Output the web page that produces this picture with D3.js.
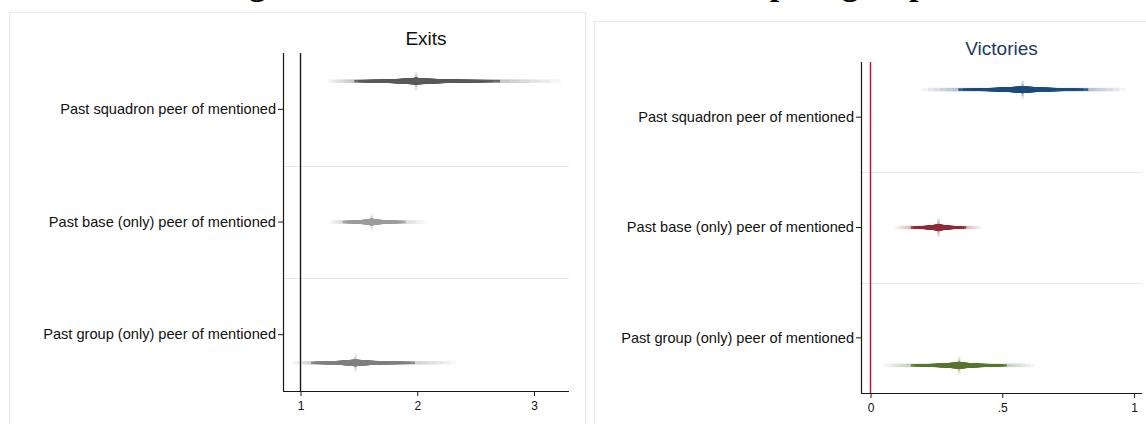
<!DOCTYPE html>
<html>
<head>
<meta charset="utf-8">
<script src="https://cdn.jsdelivr.net/npm/d3@7"></script>
<style>
  html, body { margin: 0; padding: 0; background: #ffffff; }
  svg { display: block; }
</style>
</head>
<body>
<svg id="chart" width="1146" height="424"></svg>
<script>
// ---- data ----------------------------------------------------------------
const categories = [
  "Past squadron peer of mentioned",
  "Past base (only) peer of mentioned",
  "Past group (only) peer of mentioned"
];

// Exits: hazard ratios, with 95% and outer confidence bounds
const exitsPoint = [1.99, 1.61, 1.47];
const exitsLo95  = [1.46, 1.36, 1.09];
const exitsHi95  = [2.71, 1.90, 1.98];
const exitsLoOut = [1.23, 1.24, 0.93];
const exitsHiOut = [3.23, 2.08, 2.34];

// Victories: coefficients, with 95% and outer confidence bounds
const victoriesPoint = [0.577, 0.258, 0.336];
const victoriesLo95  = [0.333, 0.153, 0.153];
const victoriesHi95  = [0.826, 0.363, 0.517];
const victoriesLoOut = [0.195, 0.094, 0.047];
const victoriesHiOut = [0.967, 0.419, 0.621];

const exitsTicks = [1, 2, 3];
const exitsTickLabels = ["1", "2", "3"];
const victoriesTicks = [0, 0.5, 1];
const victoriesTickLabels = ["0", ".5", "1"];

const exitsColors = ["#595959", "#9c9c9c", "#7f7f7f"];
const victoriesColors = ["#1f4b7a", "#8e2b37", "#56762d"];

const titleText = "Being cited: exits & victories, relative to peer group";

// ---- helpers ---------------------------------------------------------------
// standard normal CDF (Abramowitz & Stegun 7.1.26) and its inverse by bisection
function normCdf(z) {
  const t = 1 / (1 + 0.3275911 * Math.abs(z) / Math.SQRT2);
  const y = 1 - (((((1.061405429 * t - 1.453152027) * t) + 1.421413741) * t - 0.284496736) * t + 0.254829592) * t * Math.exp(-z * z / 2);
  return z >= 0 ? 0.5 * (1 + y) : 0.5 * (1 - y);
}
function normInv(p) {
  let lo = -10, hi = 10;
  for (let i = 0; i < 80; i++) {
    const mid = (lo + hi) / 2;
    if (normCdf(mid) < p) lo = mid; else hi = mid;
  }
  return (lo + hi) / 2;
}
const z95 = normInv(0.975);

const svg = d3.select("#chart");
const FONT = "'Liberation Sans', Arial, Helvetica, sans-serif";

// ---- overall title (sits mostly above the top edge) ------------------------------
svg.append("text")
  .attr("x", 183).attr("y", -5)
  .attr("font-family", "'Liberation Serif', 'Times New Roman', serif")
  .attr("font-weight", "bold")
  .attr("font-size", 34)
  .attr("fill", "#000")
  .text(titleText);

// ---- one panel -------------------------------------------------------------------
function drawPanel(cfg) {
  const g = svg.append("g");

  // outer graph region border
  g.append("rect")
    .attr("x", cfg.box.x).attr("y", cfg.box.y)
    .attr("width", cfg.box.w).attr("height", cfg.box.h)
    .attr("fill", "#ffffff")
    .attr("stroke", "#e6eaec").attr("stroke-width", 1);

  const x = d3.scaleLinear().domain(cfg.domain).range([cfg.left, cfg.right]);
  const y = d3.scaleBand().domain(categories).range([cfg.top, cfg.bottom]).paddingInner(0).paddingOuter(0);
  const step = y.step();

  // band separators
  g.selectAll("line.sep")
    .data(categories.slice(1))
    .join("line")
    .attr("class", "sep")
    .attr("x1", cfg.left).attr("x2", cfg.right)
    .attr("y1", d => Math.round(y(d)) + 0.5)
    .attr("y2", d => Math.round(y(d)) + 0.5)
    .attr("stroke", "#e3e7ea").attr("stroke-width", 1);

  // reference line
  g.append("line")
    .attr("x1", x(cfg.ref)).attr("x2", x(cfg.ref))
    .attr("y1", cfg.top).attr("y2", cfg.bottom)
    .attr("stroke", cfg.refColor).attr("stroke-width", 1.4);

  // y axis
  const yAxis = d3.axisLeft(y).tickSize(5).tickPadding(2);
  const ya = g.append("g")
    .attr("transform", `translate(${cfg.left},0)`)
    .call(yAxis);
  ya.select(".domain").attr("stroke", "#1a1a1a").attr("stroke-width", 1.2)
    .attr("d", `M0.5,${cfg.top}V${cfg.bottom}`);
  ya.selectAll(".tick line").attr("stroke", "#1a1a1a").attr("stroke-width", 1);
  ya.selectAll(".tick text")
    .attr("font-family", FONT).attr("font-size", 14.6).attr("fill", "#111");

  // x axis
  const xAxis = d3.axisBottom(x).tickValues(cfg.ticks)
    .tickFormat((d, i) => cfg.tickLabels[i]).tickSize(5).tickPadding(5);
  const xa = g.append("g")
    .attr("transform", `translate(0,${cfg.bottom})`)
    .call(xAxis);
  xa.select(".domain").attr("stroke", "#1a1a1a").attr("stroke-width", 1.2)
    .attr("d", `M${cfg.left},0.5H${cfg.right}`);
  xa.selectAll(".tick line").attr("stroke", "#1a1a1a").attr("stroke-width", 1);
  xa.selectAll(".tick text")
    .attr("font-family", FONT).attr("font-size", 12).attr("fill", "#111");

  // panel title
  g.append("text")
    .attr("x", (cfg.left + cfg.right) / 2).attr("y", cfg.titleY)
    .attr("text-anchor", "middle")
    .attr("font-family", FONT).attr("font-size", 19)
    .attr("fill", cfg.titleColor)
    .text(cfg.title);

  // smoothed confidence spikes
  const tf = cfg.tf, inv = cfg.inv;
  const offsets = [-0.25, 0, 0.25];
  categories.forEach((cat, i) => {
    const cy = y(cat) + step / 2 + offsets[i] * step;
    const col = cfg.colors[i];
    const p = tf(cfg.point[i]);
    const lo95 = tf(cfg.lo95[i]), hi95 = tf(cfg.hi95[i]);
    const loO = tf(cfg.loOut[i]), hiO = tf(cfg.hiOut[i]);
    const mk = g.append("g");

    // outer faint part: nested layers fading outward
    const nf = 6;
    for (let k = 0; k < nf; k++) {
      const s = 1 - k / nf;
      const a = lo95 + (loO - lo95) * s;
      const b = hi95 + (hiO - hi95) * s;
      mk.append("rect")
        .attr("x", x(inv(a))).attr("width", x(inv(b)) - x(inv(a)))
        .attr("y", cy - 1.75).attr("height", 3.5)
        .attr("fill", col).attr("fill-opacity", 0.06);
    }

    // inner levels: from 95% down to 1%, thickening toward the estimate
    for (let L = 95; L >= 1; L -= 2) {
      const r = normInv(0.5 + L / 200) / z95;
      const a = p - (p - lo95) * r;
      const b = p + (hi95 - p) * r;
      const h = 2.6 + 4.4 * Math.pow(1 - L / 95, 1.4);
      mk.append("rect")
        .attr("x", x(inv(a))).attr("width", Math.max(0.5, x(inv(b)) - x(inv(a))))
        .attr("y", cy - h / 2).attr("height", h)
        .attr("fill", col).attr("fill-opacity", L > 90 ? 0.85 : 1);
    }

    // estimate marker with soft cross glow
    const px = x(cfg.point[i]);
    mk.append("rect")
      .attr("x", px - 1.5).attr("width", 3)
      .attr("y", cy - 9).attr("height", 18)
      .attr("fill", col).attr("fill-opacity", 0.15);
    mk.append("rect")
      .attr("x", px - 1).attr("width", 2)
      .attr("y", cy - 6).attr("height", 12)
      .attr("fill", col).attr("fill-opacity", 0.25);
    mk.append("circle")
      .attr("cx", px).attr("cy", cy).attr("r", 3.8)
      .attr("fill", col);
  });
}

drawPanel({
  box: { x: 9.5, y: 12.5, w: 576, h: 430 },
  left: 283, right: 569, top: 53, bottom: 391,
  domain: [0.85, 3.30],
  ticks: exitsTicks, tickLabels: exitsTickLabels,
  ref: 1, refColor: "#1a1a1a",
  title: "Exits", titleColor: "#111111", titleY: 45,
  point: exitsPoint, lo95: exitsLo95, hi95: exitsHi95, loOut: exitsLoOut, hiOut: exitsHiOut,
  colors: exitsColors,
  tf: Math.log, inv: Math.exp
});

drawPanel({
  box: { x: 594.5, y: 21.5, w: 580, h: 430 },
  left: 861, right: 1142, top: 62, bottom: 393,
  domain: [-0.036, 1.03],
  ticks: victoriesTicks, tickLabels: victoriesTickLabels,
  ref: 0, refColor: "#d9002c",
  title: "Victories", titleColor: "#1c3a66", titleY: 55,
  point: victoriesPoint, lo95: victoriesLo95, hi95: victoriesHi95, loOut: victoriesLoOut, hiOut: victoriesHiOut,
  colors: victoriesColors,
  tf: d => d, inv: d => d
});
</script>
</body>
</html>
